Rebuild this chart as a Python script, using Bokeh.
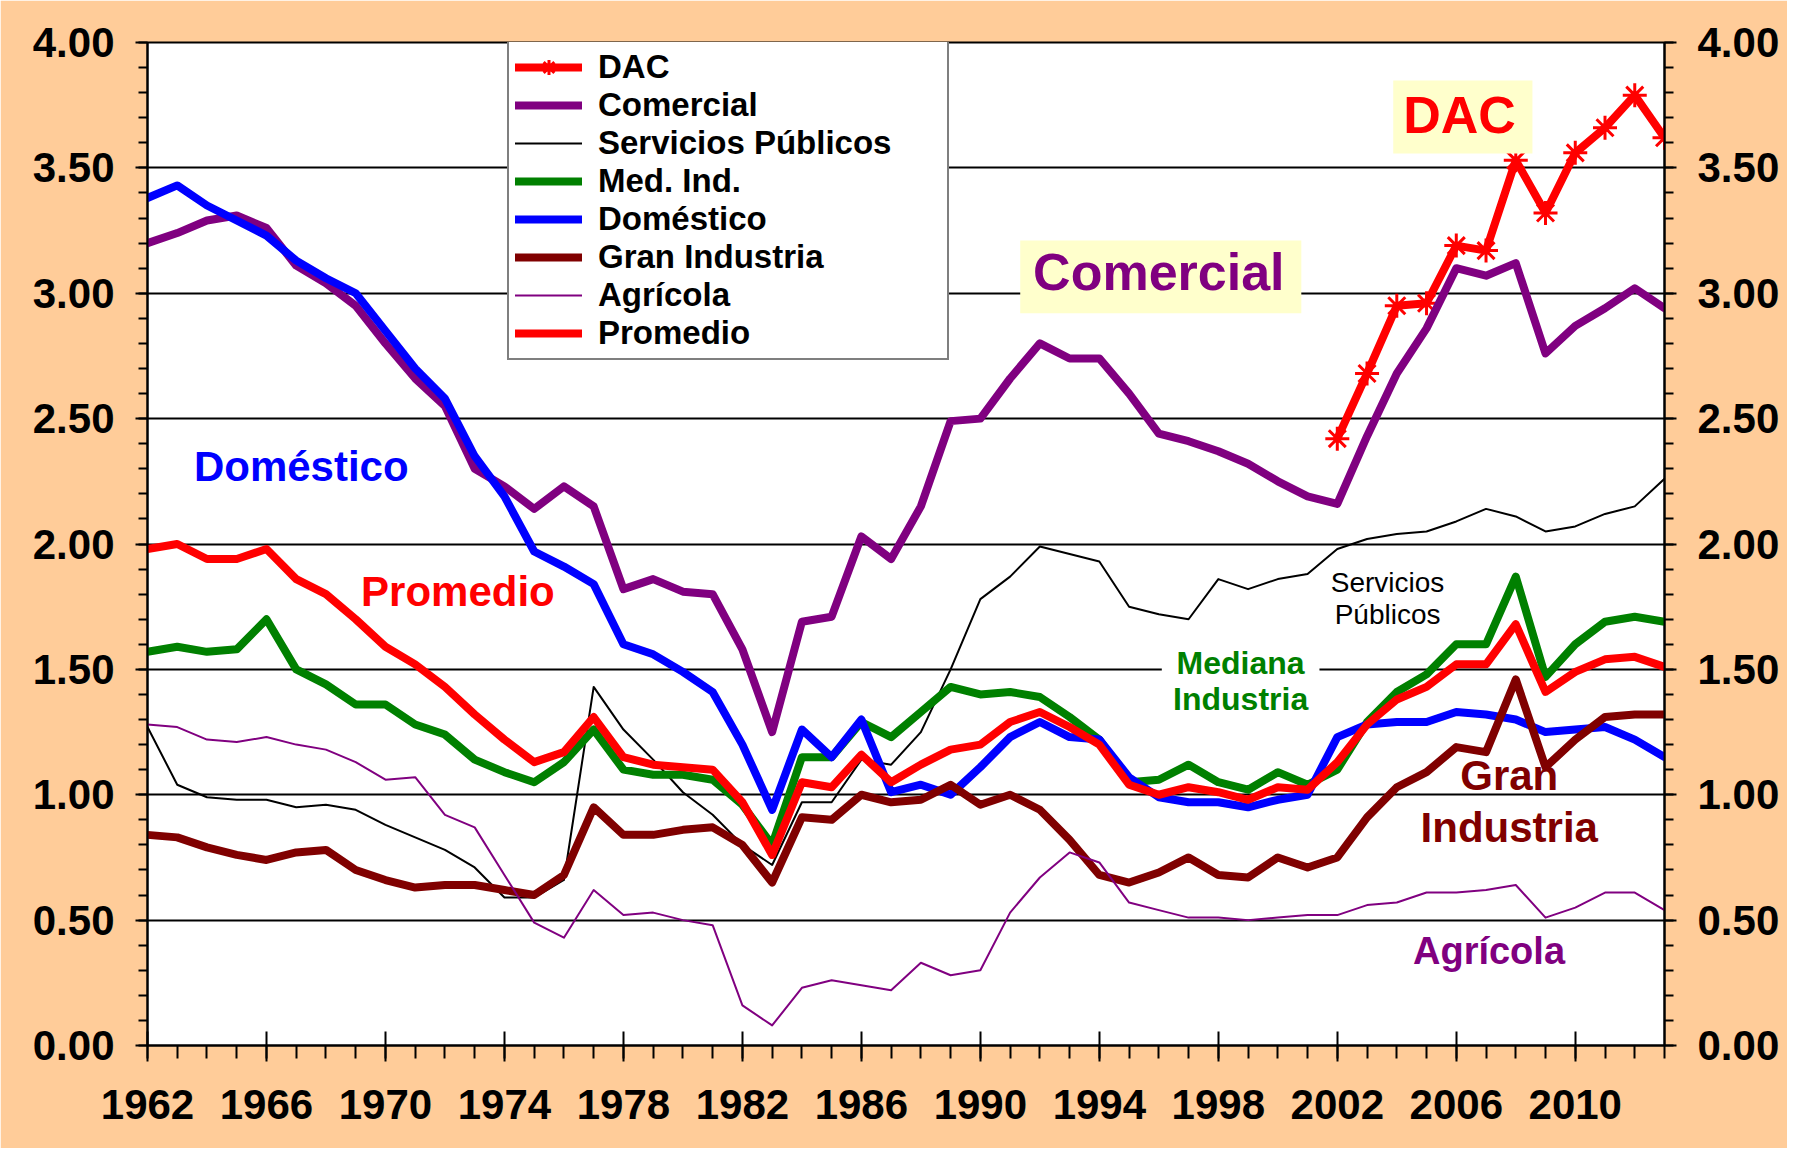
from bokeh.plotting import figure
from bokeh.models import (LinearAxis, FixedTicker, NumeralTickFormatter, Legend, LegendItem,
                          Label, BoxAnnotation, Range1d, BasicTickFormatter)
from bokeh.embed import file_html
from bokeh.resources import INLINE

# ---------------- data ----------------
years = list(range(1962, 2014))

domestico = [3.38, 3.43, 3.35, 3.29, 3.23, 3.13, 3.06, 3.00, 2.85, 2.70,
             2.58, 2.35, 2.19, 1.97, 1.91, 1.84, 1.60, 1.56, 1.49, 1.41,
             1.20, 0.94, 1.26, 1.15, 1.30, 1.01, 1.04, 1.00, 1.11, 1.23,
             1.29, 1.23, 1.22, 1.07, 0.99, 0.97, 0.97, 0.95, 0.98, 1.00,
             1.23, 1.28, 1.29, 1.29, 1.33, 1.32, 1.30, 1.25, 1.26, 1.27,
             1.22, 1.15]

comercial = [3.20, 3.24, 3.29, 3.31, 3.26, 3.11, 3.04, 2.95, 2.80, 2.66,
             2.55, 2.30, 2.23, 2.14, 2.23, 2.15, 1.82, 1.86, 1.81, 1.80,
             1.58, 1.25, 1.69, 1.71, 2.03, 1.94, 2.15, 2.49, 2.50, 2.66,
             2.80, 2.74, 2.74, 2.60, 2.44, 2.41, 2.37, 2.32, 2.25, 2.19,
             2.16, 2.43, 2.68, 2.86, 3.10, 3.07, 3.12, 2.76, 2.87, 2.94,
             3.02, 2.94]

servicios = [1.27, 1.04, 0.99, 0.98, 0.98, 0.95, 0.96, 0.94, 0.88, 0.83,
             0.78, 0.71, 0.59, 0.59, 0.66, 1.43, 1.26, 1.14, 1.01, 0.92,
             0.80, 0.72, 0.97, 0.97, 1.14, 1.12, 1.25, 1.50, 1.78, 1.87,
             1.99, 1.96, 1.93, 1.75, 1.72, 1.70, 1.86, 1.82, 1.86, 1.88,
             1.98, 2.02, 2.04, 2.05, 2.09, 2.14, 2.11, 2.05, 2.07, 2.12,
             2.15, 2.26]

med_ind = [1.57, 1.59, 1.57, 1.58, 1.70, 1.50, 1.44, 1.36, 1.36, 1.28,
           1.24, 1.14, 1.09, 1.05, 1.13, 1.26, 1.10, 1.08, 1.08, 1.06,
           0.96, 0.80, 1.15, 1.15, 1.29, 1.23, 1.33, 1.43, 1.40, 1.41,
           1.39, 1.31, 1.22, 1.05, 1.06, 1.12, 1.05, 1.02, 1.09, 1.04,
           1.10, 1.29, 1.41, 1.48, 1.60, 1.60, 1.87, 1.47, 1.60, 1.69,
           1.71, 1.69]

gran_ind = [0.84, 0.83, 0.79, 0.76, 0.74, 0.77, 0.78, 0.70, 0.66, 0.63,
            0.64, 0.64, 0.62, 0.60, 0.68, 0.95, 0.84, 0.84, 0.86, 0.87,
            0.80, 0.65, 0.91, 0.90, 1.00, 0.97, 0.98, 1.04, 0.96, 1.00,
            0.94, 0.82, 0.68, 0.65, 0.69, 0.75, 0.68, 0.67, 0.75, 0.71,
            0.75, 0.91, 1.03, 1.09, 1.19, 1.17, 1.46, 1.11, 1.22, 1.31,
            1.32, 1.32]

agricola = [1.28, 1.27, 1.22, 1.21, 1.23, 1.20, 1.18, 1.13, 1.06, 1.07,
            0.92, 0.87, 0.68, 0.49, 0.43, 0.62, 0.52, 0.53, 0.50, 0.48,
            0.16, 0.08, 0.23, 0.26, 0.24, 0.22, 0.33, 0.28, 0.30, 0.53,
            0.67, 0.77, 0.73, 0.57, 0.54, 0.51, 0.51, 0.50, 0.51, 0.52,
            0.52, 0.56, 0.57, 0.61, 0.61, 0.62, 0.64, 0.51, 0.55, 0.61,
            0.61, 0.54]

promedio = [1.98, 2.00, 1.94, 1.94, 1.98, 1.86, 1.80, 1.70, 1.59, 1.52,
            1.43, 1.32, 1.22, 1.13, 1.17, 1.31, 1.15, 1.12, 1.11, 1.10,
            0.97, 0.76, 1.05, 1.03, 1.16, 1.05, 1.12, 1.18, 1.20, 1.29,
            1.33, 1.27, 1.20, 1.04, 1.00, 1.03, 1.01, 0.98, 1.03, 1.02,
            1.13, 1.28, 1.38, 1.43, 1.52, 1.52, 1.68, 1.41, 1.49, 1.54,
            1.55, 1.51]

dac_years = list(range(2002, 2014))
dac = [2.42, 2.68, 2.95, 2.96, 3.19, 3.17, 3.53, 3.32, 3.56, 3.66, 3.79, 3.62]

y_ticks = [0.0, 0.5, 1.0, 1.5, 2.0, 2.5, 3.0, 3.5, 4.0]
y_minor = [i / 10 for i in range(0, 41)]
x_ticks = list(range(1962, 2011, 4))

# ---------------- figure ----------------
FONT = "Liberation Sans"
PEACH = "#FFCC99"

p = figure(frame_width=1517, frame_height=1003,
           x_range=Range1d(1962, 2013), y_range=Range1d(0, 4),
           output_backend="svg", toolbar_location=None,
           min_border_left=147, min_border_right=123,
           min_border_top=42, min_border_bottom=103,
           background_fill_color="white", border_fill_color=PEACH,
           outline_line_color="black", outline_line_width=2)

p.xgrid.visible = False
p.ygrid.ticker = FixedTicker(ticks=y_ticks)
p.ygrid.grid_line_color = "black"
p.ygrid.grid_line_width = 2


def style_y(ax):
    ax.ticker = FixedTicker(ticks=y_ticks, minor_ticks=y_minor)
    ax.formatter = NumeralTickFormatter(format="0.00")
    ax.axis_line_color = "black"
    ax.axis_line_width = 2
    ax.major_tick_line_color = "black"
    ax.major_tick_line_width = 2
    ax.minor_tick_line_color = "black"
    ax.minor_tick_line_width = 2
    ax.major_tick_in = 0
    ax.major_tick_out = 12
    ax.minor_tick_in = 0
    ax.minor_tick_out = 9
    ax.major_label_standoff = 21
    ax.major_label_text_font = FONT
    ax.major_label_text_font_style = "bold"
    ax.major_label_text_font_size = "42px"
    ax.major_label_text_color = "black"


style_y(p.yaxis[0])
right_axis = LinearAxis()
style_y(right_axis)
p.add_layout(right_axis, "right")

xa = p.xaxis[0]
xa.ticker = FixedTicker(ticks=x_ticks, minor_ticks=years)
xa.formatter = BasicTickFormatter(use_scientific=False)
xa.axis_line_color = "black"
xa.axis_line_width = 2
xa.major_tick_line_color = "black"
xa.major_tick_line_width = 2
xa.minor_tick_line_color = "black"
xa.minor_tick_line_width = 2
xa.major_tick_in = 14
xa.major_tick_out = 16
xa.minor_tick_in = 0
xa.minor_tick_out = 13
xa.major_label_standoff = 28
xa.major_label_text_font = FONT
xa.major_label_text_font_style = "bold"
xa.major_label_text_font_size = "42px"
xa.major_label_text_color = "black"

# ---------------- annotations (boxes first) ----------------
p.add_layout(BoxAnnotation(left=1991.34, right=2000.79, bottom=2.92, top=3.21,
                           fill_color="#FFFFCC", fill_alpha=1, line_color=None))
p.add_layout(BoxAnnotation(left=2003.88, right=2008.56, bottom=3.557, top=3.848,
                           fill_color="#FFFFCC", fill_alpha=1, line_color=None))
p.add_layout(BoxAnnotation(left=1996.1, right=2001.4, bottom=1.32, top=1.59,
                           fill_color="white", fill_alpha=1, line_color=None))

# ---------------- series ----------------
THICK = 8
THIN = 2
kw = dict(line_join="round", line_cap="round")

r_dac = p.line(dac_years, dac, line_color="#FF0000", line_width=THICK, **kw)
r_dac_m = p.scatter(dac_years, dac, marker="asterisk", size=24, line_color="#FF0000",
                    line_width=3)
r_com = p.line(years, comercial, line_color="#800080", line_width=THICK, **kw)
r_ser = p.line(years, servicios, line_color="black", line_width=THIN, **kw)
r_med = p.line(years, med_ind, line_color="#008000", line_width=THICK, **kw)
r_dom = p.line(years, domestico, line_color="#0000FF", line_width=THICK, **kw)
r_gran = p.line(years, gran_ind, line_color="#800000", line_width=THICK, **kw)
r_agr = p.line(years, agricola, line_color="#800080", line_width=THIN, **kw)
r_pro = p.line(years, promedio, line_color="#FF0000", line_width=THICK, **kw)

LEG_PAD = 6
LEG_ROW = 38
legend = Legend(items=[
    LegendItem(label="DAC", renderers=[r_dac, r_dac_m]),
    LegendItem(label="Comercial", renderers=[r_com]),
    LegendItem(label="Servicios Públicos", renderers=[r_ser]),
    LegendItem(label="Med. Ind.", renderers=[r_med]),
    LegendItem(label="Doméstico", renderers=[r_dom]),
    LegendItem(label="Gran Industria", renderers=[r_gran]),
    LegendItem(label="Agrícola", renderers=[r_agr]),
    LegendItem(label="Promedio", renderers=[r_pro]),
], location=(360, 1003 - 8 * LEG_ROW - 2 * LEG_PAD - 2))
legend.border_line_color = "black"
legend.border_line_width = 2
legend.background_fill_color = "white"
legend.background_fill_alpha = 1
legend.label_text_font = FONT
legend.label_text_font_style = "bold"
legend.label_text_font_size = "33px"
legend.label_text_color = "black"
legend.glyph_width = 67
legend.glyph_height = LEG_ROW
legend.label_height = LEG_ROW
legend.label_width = 343
legend.label_standoff = 16
legend.padding = LEG_PAD
legend.spacing = 0
legend.margin = 0
p.add_layout(legend)


def lab(x, y, text, color, size, bold=True, align="left", level="annotation"):
    p.add_layout(Label(x=x, y=y, text=text, text_color=color, text_font=FONT,
                       text_font_style="bold" if bold else "normal",
                       text_font_size=size, text_align=align, text_baseline="middle",
                       level=level))


lab(1963.56, 2.31, "Doméstico", "#0000FF", "42px")
lab(1969.18, 1.81, "Promedio", "#FF0000", "42px")
lab(1996.0, 3.085, "Comercial", "#800080", "52px", align="center")
lab(2006.11, 3.711, "DAC", "#FF0000", "52px", align="center")
lab(2003.69, 1.846, "Servicios", "black", "28px", bold=False, align="center")
lab(2003.69, 1.719, "Públicos", "black", "28px", bold=False, align="center")
lab(1998.75, 1.527, "Mediana", "#008000", "32px", align="center")
lab(1998.75, 1.380, "Industria", "#008000", "32px", align="center")
lab(2007.78, 1.075, "Gran", "#800000", "42px", align="center", level="underlay")
lab(2007.78, 0.869, "Industria", "#800000", "42px", align="center")
lab(2007.1, 0.375, "Agrícola", "#800080", "38px", align="center")

open("out.html", "w").write(file_html(p, INLINE))
